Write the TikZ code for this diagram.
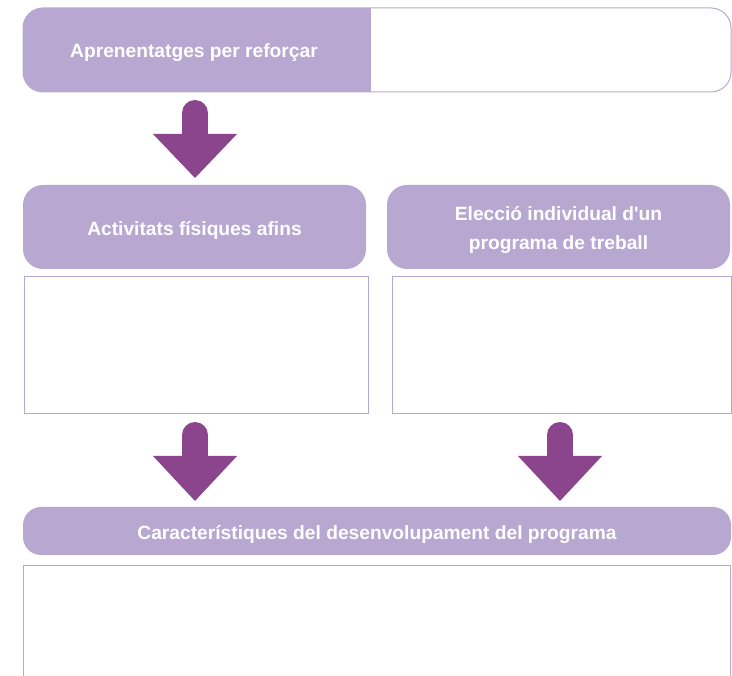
\documentclass[tikz,border=0pt]{standalone}
\usepackage{fontspec}
\setmainfont{Liberation Sans}[Ligatures=TeXOff]
\definecolor{lav}{HTML}{B7A7D1}
\definecolor{plum}{HTML}{8B458C}
\tikzset{
  headfont/.style={font=\bfseries\fontsize{19.2}{28.5}\selectfont},
  head/.style={fill=lav, draw=none, rounded corners=20pt, inner sep=0pt},
  headtext/.style={text=white, headfont, align=center, inner sep=0pt, yshift=-3pt},
  blank/.style={draw=lav, line width=1pt, fill=white, inner sep=0pt},
  shaft/.style={draw=plum, line width=26pt, line cap=round},
  tip/.style={fill=plum, draw=none},
}
\begin{document}
\begin{tikzpicture}[x=1pt,y=-1pt]
\useasboundingbox (0,0) rectangle (732,676);
% top box
\begin{scope}
  \clip[rounded corners=20pt] (23,8) rectangle (731,92);
  \fill[lav] (23,8) rectangle (371,92);
\end{scope}
\node[draw=lav, line width=1pt, rounded corners=20pt, minimum width=708pt, minimum height=84pt, inner sep=0pt] (top) at (377,50) {};
\node[headtext] (apr) at (194,50) {Aprenentatges per reforçar};
% second row headers
\node[head, minimum width=343pt, minimum height=84pt] (act) at (194.5,227) {};
\node[headtext] (actt) at (act.center) {Activitats físiques afins};
\node[head, minimum width=343pt, minimum height=84pt] (ele) at (558.5,227) {};
\node[headtext] (elet) at (ele.center) {Elecció individual d'un\\programa de treball};
% blank boxes
\node[blank, minimum width=344pt, minimum height=137pt] (actb) at (196,345.5) {};
\node[blank, minimum width=339pt, minimum height=137pt] (eleb) at (561.5,345.5) {};
% bottom banner
\node[head, rounded corners=18pt, minimum width=708pt, minimum height=48pt] (car) at (377,531) {};
\node[headtext] (cart) at (car.center) {Característiques del desenvolupament del programa};
\draw[lav, line width=1pt] (23.5,690) |- (730.5,565.5) -- (730.5,690);
% arrows
\draw[shaft] (195,113) -- (195,136);
\fill[tip] (153,134) -- (237,134) -- (195,178) -- cycle;
\draw[shaft] (195,435) -- (195,458);
\fill[tip] (153,456) -- (237,456) -- (195,501) -- cycle;
\draw[shaft] (560,435) -- (560,458);
\fill[tip] (518,456) -- (602,456) -- (560,501) -- cycle;
\end{tikzpicture}
\end{document}
